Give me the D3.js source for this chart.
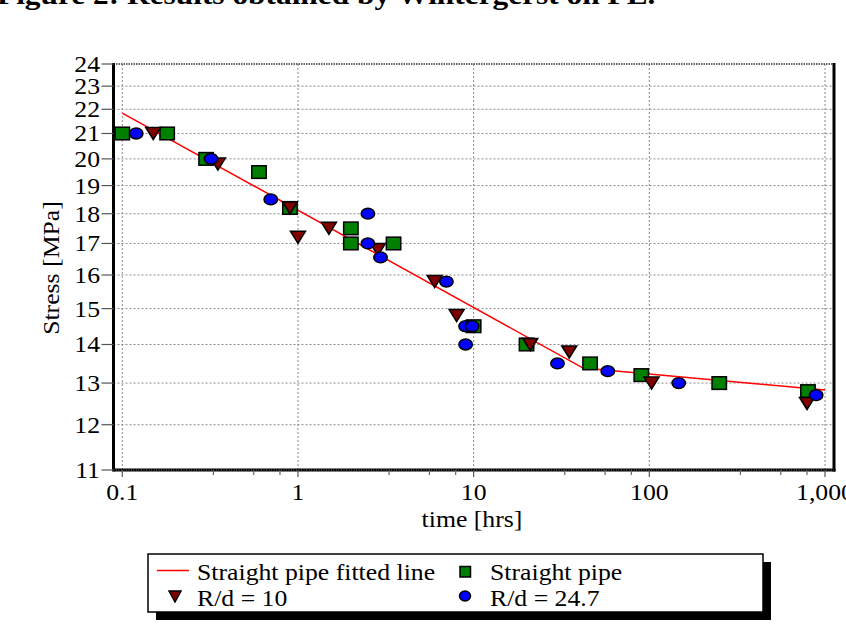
<!DOCTYPE html>
<html>
<head>
<meta charset="utf-8">
<script src="https://cdn.jsdelivr.net/npm/d3@7"></script>
<style>
  html, body { margin: 0; padding: 0; background: #fff; }
  svg { display: block; }
  text { font-family: "Liberation Serif", "Times New Roman", serif; fill: #000; }
</style>
</head>
<body>
<div id="chart"></div>
<script>
// ---------------- data ----------------
const titleText = "Figure 2: Results obtained by Wintergerst on PE.";
const xLabel = "time [hrs]";
const yLabel = "Stress [MPa]";

const xMajorTicks = [0.1, 1, 10, 100, 1000];
const xMajorLabels = ["0.1", "1", "10", "100", "1,000"];
const xMinorTicks = [0.33, 0.56, 0.79, 3.3, 5.6, 7.9, 33, 56, 79, 330, 560, 790];
const yTicks = [11, 12, 13, 14, 15, 16, 17, 18, 19, 20, 21, 22, 23, 24];

// Straight pipe fitted line
const fitTime = [0.1, 42, 1000];
const fitStress = [21.84, 13.38, 12.83];

// Straight pipe (squares)
const straightTime = [0.1, 0.18, 0.3, 0.6, 0.9, 2, 2, 3.5, 10, 20, 46, 90, 250, 800];
const straightStress = [21, 21, 20, 19.5, 18.2, 17.5, 17, 17, 14.5, 14, 13.5, 13.2, 13, 12.8];

// R/d = 10 (down triangles)
const rd10Time = [0.15, 0.35, 0.9, 1.0, 1.5, 2.85, 6, 8, 21, 35, 103, 790];
const rd10Stress = [21, 19.8, 18.2, 17.2, 17.5, 16.8, 15.8, 14.8, 14, 13.8, 13, 12.5];

// R/d = 24.7 (circles)
const rd247Time = [0.12, 0.32, 0.7, 2.5, 2.5, 2.95, 7, 9, 9.8, 9, 30, 58, 147, 890];
const rd247Stress = [21, 20, 18.5, 18, 17, 16.55, 15.8, 14.5, 14.5, 14, 13.5, 13.3, 13, 12.7];

const legendItems = ["Straight pipe fitted line", "Straight pipe", "R/d = 10", "R/d = 24.7"];

// ---------------- layout ----------------
const W = 846, H = 637;
const plotLeft = 113.5, plotRight = 834, plotTop = 64, plotBottom = 470;
const stretch = 1.12;
const fs = 23;

const colGreen = "#008000", colRed = "#800000", colBlue = "#0000ff", colLine = "#ff0000";

const svg = d3.select("#chart").append("svg").attr("width", W).attr("height", H);

const x = d3.scaleLog().domain([0.1, 1000]).range([122.3, 825]);
const y = d3.scaleLog().domain([11, 24]).range([470, 64]);

function txt(g, str, tx, ty, anchor, size, extra) {
  const t = g.append("text")
    .attr("transform", `translate(${tx},${ty})${extra || ""} scale(${stretch},1)`)
    .attr("text-anchor", anchor)
    .attr("font-size", size)
    .text(str);
  return t;
}

// title (mostly cropped at top)
txt(svg, titleText, -3, 4, "start", 28).attr("font-weight", "bold");

// gridlines
const grid = svg.append("g");
grid.selectAll("line.vg").data(xMajorTicks).join("line")
  .attr("x1", d => x(d)).attr("x2", d => x(d))
  .attr("y1", plotTop).attr("y2", plotBottom)
  .attr("stroke", "#8a8a8a").attr("stroke-width", 1).attr("stroke-dasharray", "2,2");
grid.selectAll("line.hg").data(yTicks.filter(v => v > 11 && v < 24)).join("line")
  .attr("x1", plotLeft).attr("x2", plotRight)
  .attr("y1", d => y(d)).attr("y2", d => y(d))
  .attr("stroke", "#8a8a8a").attr("stroke-width", 1).attr("stroke-dasharray", "2,2");

// top border (dotted dark)
svg.append("line").attr("x1", plotLeft).attr("x2", plotRight)
  .attr("y1", y(24)).attr("y2", y(24))
  .attr("stroke", "#333").attr("stroke-width", 1.6).attr("stroke-dasharray", "1.5,1");

// fitted line
const line = d3.line().x(d => x(d[0])).y(d => y(d[1]));
svg.append("path").datum(fitTime.map((t, i) => [t, fitStress[i]]))
  .attr("d", line).attr("fill", "none").attr("stroke", colLine).attr("stroke-width", 1.5);

// markers
function triPath(w, h) {
  return `M${-w/2},${-h/2}L${w/2},${-h/2}L0,${h/2}Z`;
}
const marks = svg.append("g").attr("stroke", "#000").attr("stroke-width", 1.5);
marks.selectAll("rect.sq").data(straightTime.map((t, i) => [t, straightStress[i]])).join("rect")
  .attr("x", d => x(d[0]) - 7.2).attr("y", d => y(d[1]) - 6.3)
  .attr("width", 14.4).attr("height", 12.6).attr("fill", colGreen);
marks.selectAll("path.tri").data(rd10Time.map((t, i) => [t, rd10Stress[i]])).join("path")
  .attr("d", triPath(15, 12))
  .attr("transform", d => `translate(${x(d[0])},${y(d[1])})`)
  .attr("fill", colRed);
marks.selectAll("ellipse.ci").data(rd247Time.map((t, i) => [t, rd247Stress[i]])).join("ellipse")
  .attr("cx", d => x(d[0])).attr("cy", d => y(d[1]))
  .attr("rx", 6.7).attr("ry", 5.4).attr("fill", colBlue);

// axes frame
svg.append("line").attr("x1", plotLeft).attr("x2", plotLeft).attr("y1", plotTop - 1).attr("y2", plotBottom + 1.5)
  .attr("stroke", "#000").attr("stroke-width", 3);
svg.append("line").attr("x1", plotRight).attr("x2", plotRight).attr("y1", plotTop - 1).attr("y2", plotBottom + 1.5)
  .attr("stroke", "#000").attr("stroke-width", 3);
svg.append("line").attr("x1", plotLeft).attr("x2", plotRight + 1.5).attr("y1", plotBottom).attr("y2", plotBottom)
  .attr("stroke", "#000").attr("stroke-width", 3.2);
svg.append("line").attr("x1", plotLeft).attr("x2", plotRight).attr("y1", plotBottom).attr("y2", plotBottom)
  .attr("stroke", "#777").attr("stroke-width", 1).attr("stroke-dasharray", "1,1.5");

// y ticks & labels
const yAx = svg.append("g");
yAx.selectAll("line").data(yTicks).join("line")
  .attr("x1", plotLeft - 12).attr("x2", plotLeft)
  .attr("y1", d => y(d)).attr("y2", d => y(d))
  .attr("stroke", "#555").attr("stroke-width", 1.2);
yTicks.forEach(v => txt(yAx, String(v), 100, y(v) + 8, "end", fs));

// x ticks & labels
const xAx = svg.append("g");
xAx.selectAll("line.maj").data(xMajorTicks).join("line")
  .attr("x1", d => x(d)).attr("x2", d => x(d))
  .attr("y1", plotBottom).attr("y2", plotBottom + 7)
  .attr("stroke", "#555").attr("stroke-width", 1.2);
xAx.selectAll("line.min").data(xMinorTicks).join("line")
  .attr("class", "min")
  .attr("x1", d => x(d)).attr("x2", d => x(d))
  .attr("y1", plotBottom).attr("y2", plotBottom + 5)
  .attr("stroke", "#666").attr("stroke-width", 1.2);
xMajorTicks.forEach((v, i) => txt(xAx, xMajorLabels[i], x(v), 500, "middle", fs));

// axis titles
txt(svg, xLabel, 472, 527, "middle", fs);
txt(svg, yLabel, 59, 268, "middle", fs, " rotate(-90)");

// legend
const lg = svg.append("g");
const lx = 148, ly = 554, lw = 615, lh = 58;
lg.append("rect").attr("x", lx + 8).attr("y", ly + 8).attr("width", lw).attr("height", lh).attr("fill", "#000");
lg.append("rect").attr("x", lx).attr("y", ly).attr("width", lw).attr("height", lh)
  .attr("fill", "#fff").attr("stroke", "#000").attr("stroke-width", 1.5);
lg.append("line").attr("x1", 157).attr("x2", 189).attr("y1", 570.5).attr("y2", 570.5)
  .attr("stroke", colLine).attr("stroke-width", 1.5);
txt(lg, legendItems[0], 197, 579.5, "start", fs);
lg.append("rect").attr("x", 460).attr("y", 566.5).attr("width", 10.5).attr("height", 10.5)
  .attr("fill", colGreen).attr("stroke", "#000").attr("stroke-width", 1.5);
txt(lg, legendItems[1], 490, 579.5, "start", fs);
lg.append("path").attr("d", triPath(12, 11)).attr("transform", "translate(175,596.5)")
  .attr("fill", colRed).attr("stroke", "#000").attr("stroke-width", 1.5);
txt(lg, legendItems[2], 197, 606, "start", fs);
lg.append("ellipse").attr("cx", 465).attr("cy", 596).attr("rx", 5.5).attr("ry", 5)
  .attr("fill", colBlue).attr("stroke", "#000").attr("stroke-width", 1.5);
txt(lg, legendItems[3], 490, 606, "start", fs);
</script>
</body>
</html>
